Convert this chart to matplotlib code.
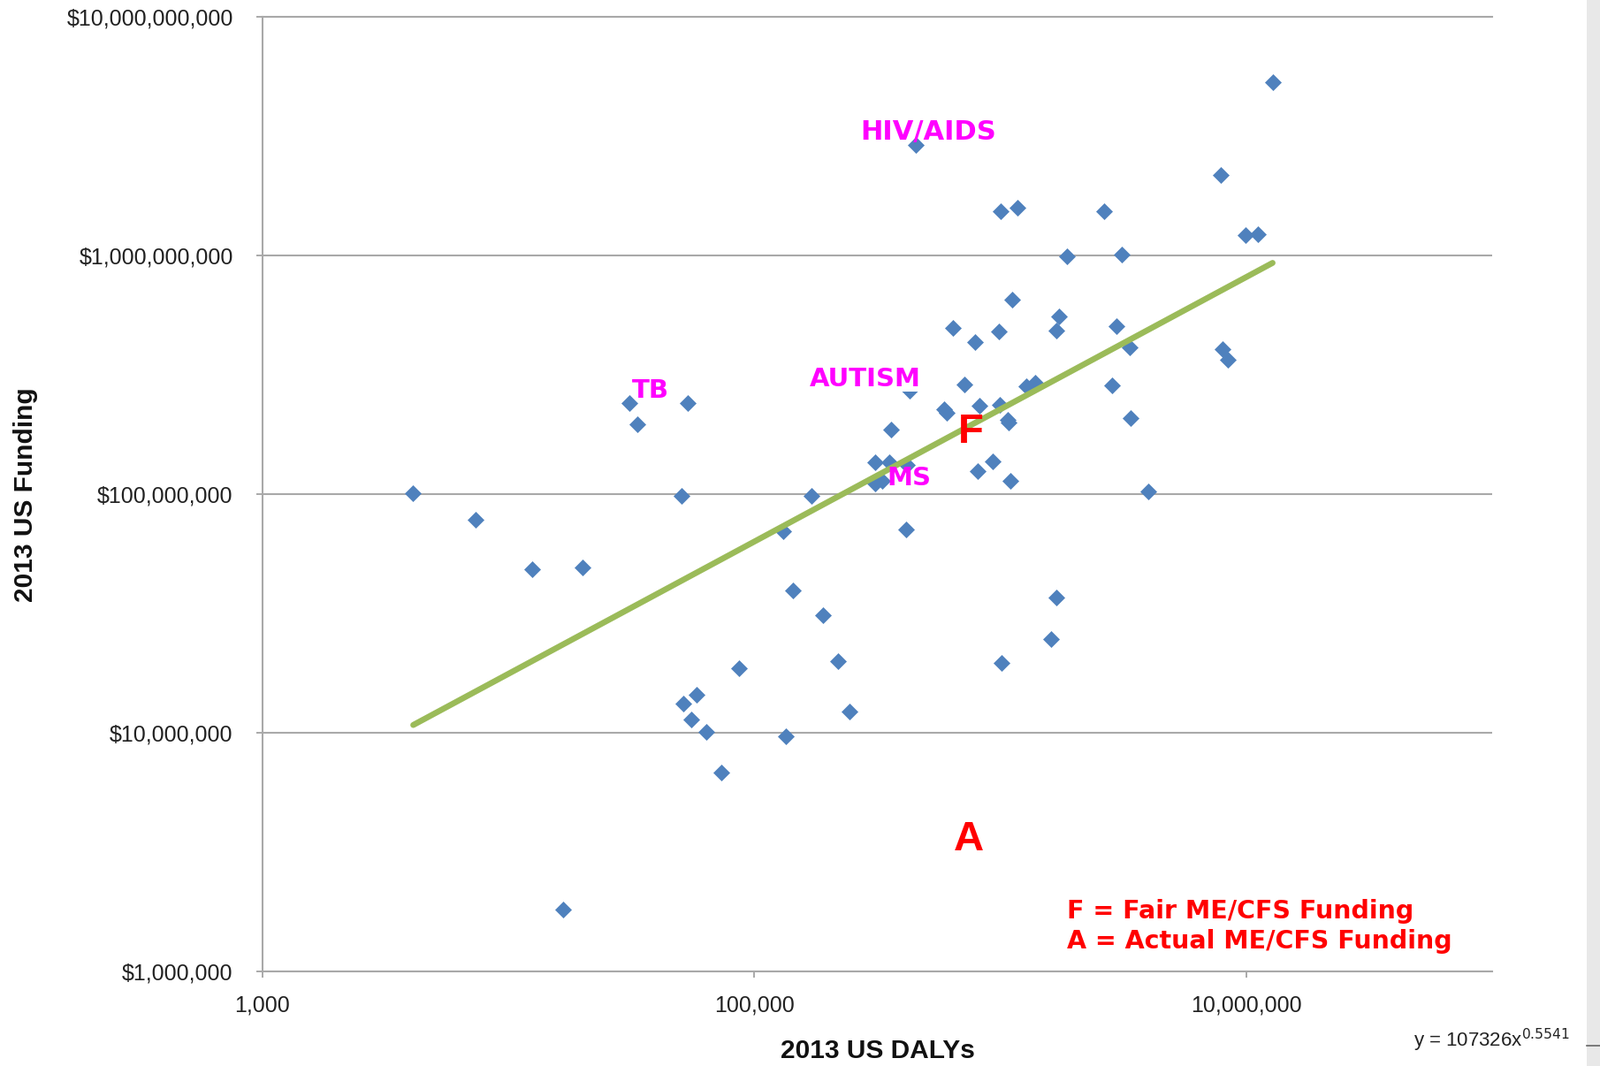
import numpy as np
import matplotlib
matplotlib.use("Agg")
import matplotlib.pyplot as plt
from matplotlib.patches import Rectangle
from matplotlib.lines import Line2D
from matplotlib.ticker import FuncFormatter, FixedLocator, NullLocator

# 2013 US DALYs vs 2013 US funding
dalys = [4100, 7340, 12500, 20000, 16700, 31000, 33500, 53500, 50600, 51500,
         58300, 55600, 63500, 73300, 86300, 131000, 134000, 143000, 170000, 190000,
         218000, 244000, 309000, 355000, 309000, 331000, 418000, 359000, 413000, 454000,
         429000, 641000, 590000, 608000, 716000, 789000, 820000, 811000, 929000, 984000,
         1.0e6, 1.17e6, 993000, 1.07e6, 1.08e6, 1.12e6, 1.10e6, 1.01e6, 1.28e6, 1.39e6,
         1.69e6, 1.73e6, 1.86e6, 1.69e6, 1.61e6, 2.65e6, 3.11e6, 2.96e6, 2.84e6, 3.35e6,
         3.40e6, 4.01e6, 7.87e6, 9.91e6, 1.12e7, 1.28e7, 7.98e6, 8.44e6]
funding = [1.01e8, 7.84e7, 4.84e7, 4.93e7, 1.82e6, 2.41e8, 1.96e8, 2.41e8, 9.84e7, 1.32e7,
           1.44e7, 1.14e7, 1.01e7, 6.82e6, 1.86e7, 6.97e7, 9.64e6, 3.94e7, 9.84e7, 3.11e7,
           2.0e7, 1.23e7, 1.36e8, 1.36e8, 1.11e8, 1.14e8, 1.32e8, 1.86e8, 7.12e7, 2.9e9,
           2.71e8, 4.99e8, 2.27e8, 2.19e8, 2.88e8, 4.35e8, 2.34e8, 1.25e8, 1.37e8, 4.81e8,
           1.53e9, 1.58e9, 2.37e8, 2.05e8, 2.0e8, 6.51e8, 1.14e8, 1.96e7, 2.84e8, 2.92e8,
           4.84e8, 5.53e8, 9.93e8, 3.69e7, 2.47e7, 1.53e9, 1.01e9, 5.04e8, 2.86e8, 4.11e8,
           2.09e8, 1.03e8, 2.18e9, 1.22e9, 1.23e9, 5.3e9, 4.05e8, 3.66e8]

# power trendline as printed on the chart: y = 107326 x^0.5541
fit_a = 107326
fit_b = 0.5541

# disease labels (text, x, y)
disease_labels = [("HIV/AIDS", 509000, 3.30e9), ("TB", 37900, 2.71e8),
                  ("AUTISM", 282000, 3.02e8), ("MS", 425000, 1.17e8)]
fair_pos = (760000, 1.81e8)
actual_pos = (747000, 3.57e6)

x_ticks = [1e3, 1e5, 1e7]
y_ticks = [1e6, 1e7, 1e8, 1e9, 1e10]

GRID = "#A9A9A9"
BLUE = "#4F81BD"
GREEN = "#9BBB59"
MAGENTA = "#FF00FF"
RED = "#FF0000"

plt.rcParams['font.family'] = ['Liberation Sans', 'DejaVu Sans']

fig = plt.figure(figsize=(18.1, 12.06), dpi=100)
ax = fig.add_axes([297 / 1810, 1 - 1099 / 1206, (1688 - 297) / 1810, (1099 - 19) / 1206])
ax.set_xscale('log')
ax.set_yscale('log')
ax.set_xlim(1e3, 1e8)
ax.set_ylim(1e6, 1e10)

# data + trendline
ax.plot(dalys, funding, linestyle='none', marker='D', ms=9.5, color=BLUE,
        mec=BLUE, mew=0.5, zorder=3)
xfit = np.geomspace(min(dalys), max(dalys), 60)
ax.plot(xfit, fit_a * xfit ** fit_b, color=GREEN, lw=4.8, solid_capstyle='round', zorder=4)

# axes styling
ax.xaxis.set_major_locator(FixedLocator(x_ticks))
ax.xaxis.set_minor_locator(NullLocator())
ax.yaxis.set_major_locator(FixedLocator(y_ticks))
ax.yaxis.set_minor_locator(NullLocator())
ax.xaxis.set_major_formatter(FuncFormatter(lambda v, p: f"{v:,.0f}"))
ax.yaxis.set_major_formatter(FuncFormatter(lambda v, p: f"${v:,.0f}"))
ax.tick_params(axis='y', length=5, width=1.4, color=GRID, labelsize=18,
               labelcolor='#222222', pad=19)
ax.tick_params(axis='x', length=5, width=1.4, color=GRID, labelsize=18,
               labelcolor='#222222', pad=14)
ax.yaxis.grid(True, color=GRID, lw=1.5)
ax.xaxis.grid(False)
for side in ['left', 'bottom', 'top']:
    ax.spines[side].set_color(GRID)
    ax.spines[side].set_linewidth(1.5)
ax.spines['right'].set_visible(False)

# annotations
for name, lx, ly in disease_labels:
    kw = {}
    if name == "AUTISM":
        kw['bbox'] = dict(facecolor='white', edgecolor='none', pad=0)
    ax.text(lx, ly, name, color=MAGENTA, fontsize=22 if name == "HIV/AIDS" else 21,
            fontweight='bold', family='DejaVu Sans', ha='center', va='center',
            zorder=5, **kw)
ax.text(*fair_pos, "F", color=RED, fontsize=34, fontweight='bold', ha='center',
        va='center', zorder=5)
ax.text(*actual_pos, "A", color=RED, fontsize=34, fontweight='bold', ha='center',
        va='center', zorder=5)
ax.text(0.654, 0.047, "F = Fair ME/CFS Funding\nA = Actual ME/CFS Funding",
        transform=ax.transAxes, color=RED, fontsize=20.5, fontweight='bold',
        family='DejaVu Sans', ha='left', va='center', linespacing=1.25, zorder=5)

fig.text(993 / 1810, 1 - 1189 / 1206, "2013 US DALYs", fontsize=21.5,
         fontweight='bold', ha='center', va='center', color='#111111')
fig.text(29 / 1810, 1 - 560 / 1206, "2013 US Funding", fontsize=21.5,
         fontweight='bold', ha='center', va='center', rotation=90, color='#111111')
fig.text(1599 / 1810, 1 - 1177 / 1206, r"y = 107326x$^{0.5541}$", fontsize=16,
         ha='left', va='center', color='#222222')

# screenshot edge
fig.patches.append(Rectangle((1795 / 1810, 0), 15 / 1810, 1, transform=fig.transFigure,
                             facecolor='#E8E8E8', edgecolor='none', zorder=0))
fig.lines.append(Line2D([1795 / 1810, 1], [1 - 1183 / 1206] * 2, transform=fig.transFigure,
                        color='#666666', lw=1.2))

fig.savefig("out.png", dpi=100)
